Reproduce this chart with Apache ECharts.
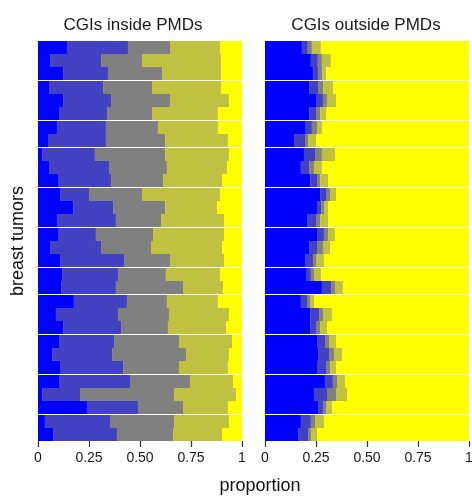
<!DOCTYPE html>
<html><head><meta charset="utf-8">
<script src="https://cdn.jsdelivr.net/npm/echarts@6/dist/echarts.min.js"></script>
<style>html,body{margin:0;padding:0;background:#fff}#c{width:472px;height:497px}</style>
</head><body><div id="c"></div>
<script>
// ---- data ----
const tumors = ['T01','T02','T03','T04','T05','T06','T07','T08','T09','T10','T11','T12','T13','T14','T15',
                'T16','T17','T18','T19','T20','T21','T22','T23','T24','T25','T26','T27','T28','T29','T30'];
const groupSizes = [3,3,2,3,3,3,2,3,3,3,2];
const panelTitles = ['CGIs inside PMDs','CGIs outside PMDs'];
const tickLabels = ['0','0.25','0.50','0.75','1'];
const classNames = ['class1','class2','class3','class4','class5'];

const insideBlue   = [0.142,0.059,0.123,0.054,0.123,0.103,0.093,0.049,0.020,0.054,0.098,0.108,0.172,0.093,0.098,0.059,0.108,0.118,0.113,0.176,0.088,0.123,0.103,0.069,0.108,0.103,0.020,0.240,0.034,0.074];
const insideSlate  = [0.299,0.250,0.220,0.265,0.235,0.235,0.240,0.284,0.259,0.294,0.260,0.142,0.196,0.289,0.186,0.250,0.314,0.274,0.269,0.260,0.304,0.284,0.270,0.294,0.309,0.348,0.186,0.250,0.319,0.313];
const insideGray   = [0.206,0.201,0.265,0.240,0.289,0.221,0.255,0.290,0.344,0.284,0.255,0.260,0.255,0.221,0.280,0.245,0.225,0.235,0.329,0.196,0.250,0.230,0.318,0.363,0.274,0.294,0.461,0.221,0.314,0.275];
const insideOlive  = [0.245,0.387,0.289,0.338,0.289,0.323,0.294,0.308,0.313,0.295,0.289,0.382,0.255,0.309,0.348,0.348,0.265,0.265,0.196,0.250,0.294,0.285,0.260,0.210,0.240,0.211,0.304,0.220,0.269,0.240];
const insideYellow = [0.108,0.103,0.103,0.103,0.064,0.118,0.118,0.069,0.064,0.073,0.098,0.108,0.122,0.088,0.088,0.098,0.088,0.108,0.093,0.118,0.064,0.078,0.049,0.064,0.069,0.044,0.029,0.069,0.064,0.098];

const outsideBlue   = [0.181,0.225,0.235,0.216,0.250,0.216,0.196,0.142,0.191,0.176,0.221,0.270,0.255,0.206,0.255,0.216,0.196,0.201,0.279,0.176,0.221,0.221,0.255,0.260,0.255,0.294,0.240,0.260,0.176,0.162];
const outsideSlate  = [0.029,0.034,0.025,0.044,0.034,0.034,0.034,0.054,0.054,0.040,0.034,0.029,0.020,0.044,0.034,0.039,0.039,0.024,0.045,0.030,0.044,0.029,0.039,0.054,0.044,0.039,0.064,0.024,0.049,0.049];
const outsideGray   = [0.020,0.020,0.020,0.025,0.020,0.020,0.025,0.015,0.034,0.024,0.015,0.020,0.014,0.020,0.020,0.029,0.015,0.015,0.019,0.015,0.019,0.020,0.020,0.024,0.020,0.020,0.044,0.015,0.020,0.014];
const outsideOlive  = [0.044,0.044,0.020,0.049,0.044,0.029,0.024,0.039,0.064,0.039,0.039,0.029,0.020,0.039,0.034,0.035,0.039,0.035,0.039,0.019,0.044,0.034,0.034,0.039,0.029,0.039,0.054,0.029,0.044,0.030];
const outsideYellow = [0.725,0.681,0.701,0.667,0.652,0.701,0.721,0.750,0.657,0.721,0.691,0.652,0.691,0.691,0.657,0.681,0.711,0.725,0.618,0.760,0.672,0.696,0.652,0.623,0.652,0.608,0.598,0.672,0.711,0.745];

// ---- styling / layout ----
const colors = ['#0000FF','#4141C1','#808080','#C1C141','#FFFF00'];
const panels = [
  [insideBlue, insideSlate, insideGray, insideOlive, insideYellow],
  [outsideBlue, outsideSlate, outsideGray, outsideOlive, outsideYellow]
];
const FONT = "'Liberation Sans', Arial, Helvetica, sans-serif";
const panelLeft = [38, 265];
const panelWidth = 204;
const plotTop = 41;
const barH = 13;
const gapH = 1;

const grids = [], xAxes = [], yAxes = [], series = [];
let idx = 0;
for (let p = 0; p < 2; p++) {
  let top = plotTop, start = 0;
  groupSizes.forEach((n, g) => {
    const h = n * barH;
    const last = g === groupSizes.length - 1;
    grids.push({left: panelLeft[p], width: panelWidth, top: top, height: h,
                containLabel: false, outerBoundsMode: 'none'});
    xAxes.push({
      type: 'value', gridIndex: idx, min: 0, max: 1, interval: 0.25,
      axisLine: {show: false}, splitLine: {show: false},
      axisTick: {show: last, length: 6, lineStyle: {color: '#333', width: 1.2}},
      axisLabel: {show: last, margin: 10, fontSize: 14, fontFamily: FONT, color: '#1a1a1a',
        formatter: (v) => tickLabels[Math.round(v / 0.25)]}
    });
    yAxes.push({
      type: 'category', gridIndex: idx, inverse: true, show: false,
      data: tumors.slice(start, start + n)
    });
    for (let k = 0; k < 5; k++) {
      series.push({
        type: 'bar', name: classNames[k], xAxisIndex: idx, yAxisIndex: idx,
        stack: 'st' + idx, barWidth: '100%', barCategoryGap: '0%',
        silent: true, animation: false,
        itemStyle: {color: colors[k]},
        data: panels[p][k].slice(start, start + n)
      });
    }
    top += h + gapH;
    start += n;
    idx++;
  });
}

const chart = echarts.init(document.getElementById('c'), null, {renderer: 'canvas'});
chart.setOption({
  backgroundColor: '#fff',
  animation: false,
  grid: grids, xAxis: xAxes, yAxis: yAxes, series: series,
  graphic: [
    {type: 'text', x: 133, y: 25, style: {text: panelTitles[0], font: '17px ' + FONT, fill: '#1a1a1a', textAlign: 'center', textVerticalAlign: 'middle', align: 'center', verticalAlign: 'middle'}},
    {type: 'text', x: 366, y: 25, style: {text: panelTitles[1], font: '17px ' + FONT, fill: '#1a1a1a', textAlign: 'center', textVerticalAlign: 'middle', align: 'center', verticalAlign: 'middle'}},
    {type: 'text', x: 18, y: 241, rotation: Math.PI / 2, style: {text: 'breast tumors', font: '18px ' + FONT, fill: '#111', textAlign: 'center', textVerticalAlign: 'middle', align: 'center', verticalAlign: 'middle'}},
    {type: 'text', x: 260, y: 486, style: {text: 'proportion', font: '18px ' + FONT, fill: '#111', textAlign: 'center', textVerticalAlign: 'middle', align: 'center', verticalAlign: 'middle'}}
  ]
});
</script>
</body></html>
